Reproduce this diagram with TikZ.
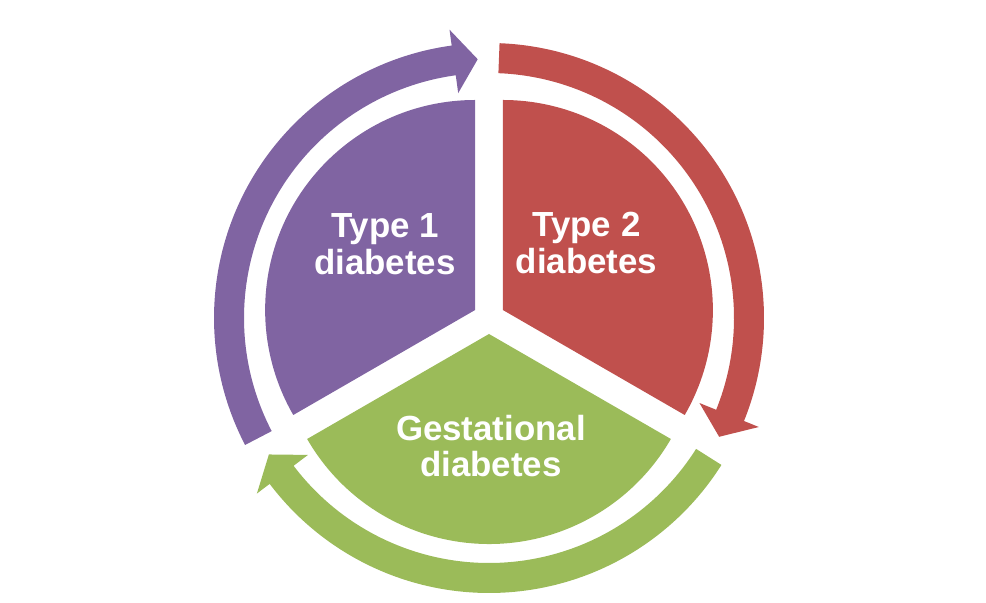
\documentclass[tikz,border=0pt]{standalone}
\usepackage{fontspec}
\setmainfont{Liberation Sans}
\usepackage{tikz}

\definecolor{mor}{HTML}{8064A2}
\definecolor{kirmizi}{HTML}{C0504D}
\definecolor{yesil}{HTML}{9BBB59}

\begin{document}
\begin{tikzpicture}[x=1bp, y=1bp,
    etiket/.style={text=white, align=center, inner sep=0pt,
      font=\bfseries\fontsize{35}{37}\selectfont}]
        \useasboundingbox (0,0) rectangle (986,603);
        \begin{scope}[shift={(489,285)}]
        % Dilimleri çiz
        \fill[mor] (150:16) -- +(90:210) arc (90:210:210) -- cycle;
        \fill[kirmizi] (30:16) -- +(-30:210) arc (-30:90:210) -- cycle;
        \fill[yesil] (270:16) -- +(210:210) arc (210:330:210) -- cycle;

        % Okları çiz
        \fill[mor] (207.5:275) arc (207.5:97.8:275) -- (97.8:291) -- (92.5:259)
            -- (97.8:227) -- (97.8:245) arc (97.8:207.5:245) -- cycle;
        \fill[kirmizi] (87.8:275) arc (87.8:-22:275) -- (-22:291) -- (-27.3:259)
            -- (-22:227) -- (-22:245) arc (-22:87.8:245) -- cycle;
        \fill[yesil] (-32.3:275) arc (-32.3:-142.9:275) -- (-142.9:291) -- (-148.2:259)
            -- (-142.9:227) -- (-142.9:245) arc (-142.9:-32.3:245) -- cycle;

        % Yazıları yaz
        \node[etiket] (tip1) at (-104,74) {Type 1\\diabetes};
        \node[etiket] (tip2) at (97.5,75) {Type 2\\diabetes};
        \node[etiket] (gest) at (2,-128) {Gestational\\diabetes};
        \end{scope}
    \end{tikzpicture}
\end{document}
